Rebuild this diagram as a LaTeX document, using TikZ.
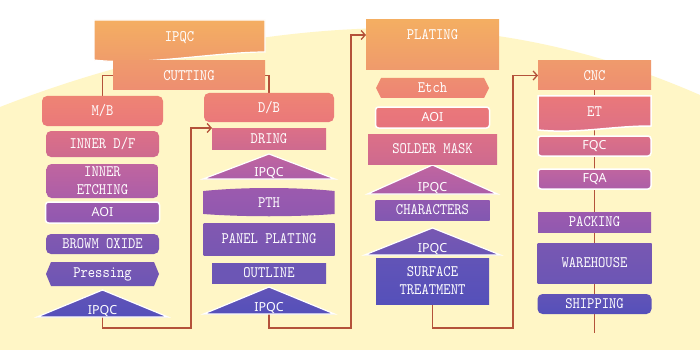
\documentclass[tikz,border=0pt]{standalone}
\usepackage{fontspec}
\usepackage{xcolor}
\usepackage{tikz}
\usetikzlibrary{arrows.meta, positioning, calc, backgrounds}

\newfontfamily\sansface{Noto Sans}
\newfontfamily\monoface[FakeStretch=0.87]{lmmono10-regular.otf}
\newcommand{\labelmono}{\monoface\fontsize{16}{18}\selectfont}
\newcommand{\labelsans}{\sansface\fontsize{12.5}{14}\selectfont}

\definecolor{bgyellow}{HTML}{FFF6C6}
\definecolor{linkred}{HTML}{B4523A}
\definecolor{o1}{HTML}{F4AE62}
\definecolor{o2}{HTML}{EF9A6C}
\definecolor{o3}{HTML}{EE8E71}
\definecolor{s1}{HTML}{EE8474}
\definecolor{s2}{HTML}{EA787A}
\definecolor{s3}{HTML}{E6727D}
\definecolor{p1}{HTML}{DC7087}
\definecolor{p2}{HTML}{CE6A8F}
\definecolor{m1}{HTML}{C0659F}
\definecolor{m2}{HTML}{AC5EA8}
\definecolor{v1}{HTML}{9C5AAE}
\definecolor{v2}{HTML}{9059B0}
\definecolor{v3}{HTML}{8258B1}
\definecolor{v4}{HTML}{7857B2}
\definecolor{b1}{HTML}{6C56B5}
\definecolor{b2}{HTML}{6254B7}
\definecolor{b3}{HTML}{5550BA}

\begin{document}
\begin{tikzpicture}[
    x=1pt, y=-1pt,
    every node/.style={font=\labelmono, text=white, inner sep=0pt, outer sep=0pt},
    box/.style={rectangle, align=center},
    rbox/.style={box, rounded corners=5pt},
    wbox/.style={box, draw=white, line width=1.5pt, rounded corners=3pt, font=\labelsans},
    tri/.style={box, font=\labelsans, minimum width=132pt, text height=24pt, text depth=3pt},
    grad/.style 2 args={top color=#1, bottom color=#2},
    link/.style={draw=linkred, line width=1.3pt},
    arrow/.style={link, -{Straight Barb[length=4pt,width=9pt]}}
    ]

    \useasboundingbox (0,0) rectangle (700,350);

    % top
    \node[box, minimum width=171pt, text height=22pt, text depth=18pt] (ipqcTop) at (179.5,40) {IPQC};
    \node[box, grad={o2}{o3}, minimum width=152pt, minimum height=29pt] (cutting) at (189,75.5) {CUTTING};

    % column 1
    \node[rbox, grad={s1}{s2}, minimum width=121pt, minimum height=30pt] (mb) at (102.5,111) {M/B};
    \node[rbox, grad={p1}{p2}, minimum width=113pt, minimum height=26pt, below=5pt of mb] (innerdf) {INNER D/F};
    \node[rbox, grad={m1}{m2}, minimum width=112pt, minimum height=34pt, below=7pt of innerdf] (inneretch) {INNER\\ETCHING};
    \node[wbox, grad={v1}{v2}, minimum width=114pt, minimum height=21pt, below=4pt of inneretch] (aoiA) {AOI};
    \node[rbox, grad={v3}{v4}, minimum width=113pt, minimum height=20pt, below=11pt of aoiA] (browm) {BROWM OXIDE};
    \node[box, minimum width=113pt, minimum height=24pt, below=8pt of browm] (pressing) {Pressing};
    \node[tri, minimum width=131pt, below=4pt of pressing] (ipqcA) {IPQC};

    % column 2
    \node[rbox, grad={s1}{s2}, minimum width=130pt, minimum height=29pt] (db) at (269,107.5) {D/B};
    \node[box, grad={p1}{p2}, minimum width=114pt, minimum height=21pt, below=6pt of db] (dring) {DRING};
    \node[tri, text height=22pt, below=5pt of dring] (ipqcB) {IPQC};
    \node[box, minimum width=131pt, minimum height=23pt, below=12pt of ipqcB] (pth) {PTH};
    \node[box, grad={v3}{v4}, minimum width=131pt, minimum height=32pt, below=9pt of pth] (panel) {PANEL PLATING};
    \node[box, grad={b1}{b1}, minimum width=114pt, minimum height=20pt, below=8pt of panel] (outline) {OUTLINE};
    \node[tri, minimum width=131pt, below=4pt of outline] (ipqcC) {IPQC};

    % column 3
    \node[box, grad={o1}{o2}, minimum width=133pt, text height=20pt, text depth=30pt] (plating) at (432.5,45) {PLATING};
    \node[box, minimum width=113pt, minimum height=20pt, below=8pt of plating] (etch) {Etch};
    \node[wbox, grad={s2}{s3}, minimum width=114pt, minimum height=21pt, below=9pt of etch] (aoiB) {AOI};
    \node[box, grad={p1}{p2}, minimum width=129pt, minimum height=30pt, below=6pt of aoiB] (solder) {SOLDER MASK};
    \node[tri, minimum width=130pt, text height=26pt, below=1pt of solder] (ipqcD) {IPQC};
    \node[box, grad={v2}{v3}, minimum width=114pt, minimum height=20pt, below=6pt of ipqcD] (chars) {CHARACTERS};
    \node[tri, minimum width=136pt, below=8pt of chars] (ipqcE) {IPQC};
    \node[box, grad={b2}{b3}, minimum width=113pt, minimum height=46pt, below=3pt of ipqcE] (surface) {SURFACE\\TREATMENT};

    % column 4
    \node[box, grad={o2}{o3}, minimum width=113pt, minimum height=29pt] (cnc) at (594.5,75.5) {CNC};
    \node[box, minimum width=113pt, text height=21pt, text depth=16pt, below=6pt of cnc] (et) {ET};
    \node[wbox, grad={p1}{p2}, minimum width=113pt, minimum height=20pt, below=3pt of et] (fqc) {FQC};
    \node[wbox, grad={m1}{m2}, minimum width=113pt, minimum height=20pt, below=13pt of fqc] (fqa) {FQA};
    \node[box, grad={v1}{v2}, minimum width=113pt, minimum height=20pt, below=23pt of fqa] (packing) {PACKING};
    \node[box, grad={v4}{b1}, minimum width=114pt, minimum height=40pt, below=11pt of packing] (warehouse) {WAREHOUSE};
    \node[rbox, grad={b2}{b3}, minimum width=114pt, minimum height=20pt, below=11pt of warehouse] (shipping) {SHIPPING};

    \coordinate (jA) at (191,328);
    \coordinate (jB) at (351,328);
    \coordinate (jC) at (513,328);
    \coordinate (endD) at (594.5,333);

    \begin{scope}[on background layer]
        \fill[white] (0,0) rectangle (700,350);
        \fill[bgyellow] (0,350) -- (0,107) .. controls (120,60) and (260,28) .. (400,28)
            .. controls (520,30) and (620,60) .. (700,95) -- (700,350) -- cycle;

        % connectors
        \draw[link] (mb.north) |- (cutting.west);
        \draw[link] (db.north) |- (cutting.east);
        \draw[link] (cutting) -- (ipqcTop);
        \draw[arrow] (ipqcA.south) |- (jA) |- (dring.north west);
        \draw[arrow] (ipqcC.south) |- (jB) |- ($(plating.west)+(0,-10)$);
        \draw[arrow] (surface.south) |- (jC) |- (cnc.west);
        \draw[link] (cnc) -- (endD);

        % document shapes
        \path[grad={o1}{o2}, draw=white, line width=1.2pt] (ipqcTop.north west) -- (ipqcTop.north east)
            -- ($(ipqcTop.south east)+(0,-8)$) .. controls +(-50,0) and +(50,6) .. (ipqcTop.south west) -- cycle;
        \path[grad={s2}{p1}, draw=white, line width=1.5pt] (et.north west) -- (et.north east)
            -- ($(et.south east)+(0,-7)$) .. controls +(-40,0) and +(40,4) .. ($(et.south west)+(0,-3)$) -- cycle;
        \path[grad={v1}{v2}] (pth.north west) .. controls +(40,-4) and +(-40,-4) .. (pth.north east)
            -- (pth.south east) .. controls +(-40,3) and +(40,3) .. (pth.south west) -- cycle;

        % hexagons
        \path[grad={v4}{b1}] (pressing.west) -- ($(pressing.north west)+(5,0)$) -- ($(pressing.north east)+(-5,0)$)
            -- (pressing.east) -- ($(pressing.south east)+(-5,0)$) -- ($(pressing.south west)+(5,0)$) -- cycle;
        \path[grad={o3}{s1}] (etch.west) -- ($(etch.north west)+(5,0)$) -- ($(etch.north east)+(-5,0)$)
            -- (etch.east) -- ($(etch.south east)+(-5,0)$) -- ($(etch.south west)+(5,0)$) -- cycle;

        % triangles
        \path[grad={b2}{b3}, draw=white, line width=1.2pt] (ipqcA.south west) -- (ipqcA.north) -- (ipqcA.south east) -- cycle;
        \path[grad={m1}{m2}, draw=white, line width=1.2pt] (ipqcB.south west) -- (ipqcB.north) -- (ipqcB.south east) -- cycle;
        \path[grad={b2}{b3}, draw=white, line width=1.2pt] (ipqcC.south west) -- (ipqcC.north) -- (ipqcC.south east) -- cycle;
        \path[grad={m1}{m2}, draw=white, line width=1.2pt] (ipqcD.south west) -- (ipqcD.north) -- (ipqcD.south east) -- cycle;
        \path[grad={v4}{b1}, draw=white, line width=1.2pt] (ipqcE.south west) -- (ipqcE.north) -- (ipqcE.south east) -- cycle;
    \end{scope}

\end{tikzpicture}
\end{document}
